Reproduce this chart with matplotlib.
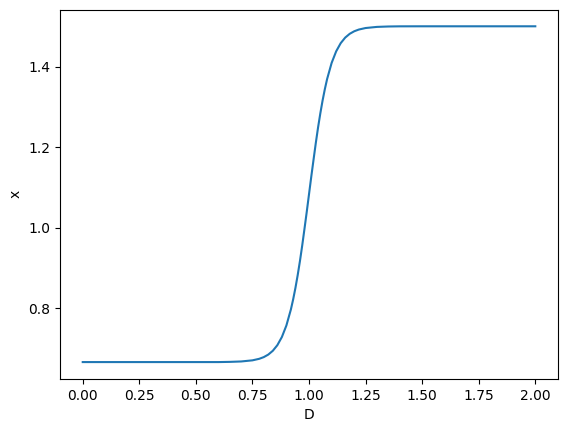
import matplotlib
matplotlib.use("Agg")
import matplotlib.pyplot as plt

# values
D = [0.0, 0.5, 0.6, 0.65, 0.7, 0.75, 0.78, 0.8, 0.82, 0.84, 0.86, 0.88,
     0.9, 0.92, 0.93, 0.94, 0.95, 0.96, 0.97, 0.98, 0.99, 1.0, 1.01,
     1.02, 1.03, 1.04, 1.05, 1.06, 1.07, 1.08, 1.1, 1.12, 1.14, 1.16,
     1.18, 1.2, 1.22, 1.25, 1.3, 1.35, 1.4, 1.5, 2.0]
x = [0.6667, 0.6667, 0.6667, 0.6672, 0.6682, 0.6710, 0.6748, 0.6790,
     0.6853, 0.6947, 0.7086, 0.7288, 0.7575, 0.7975, 0.8225, 0.8508,
     0.8826, 0.9177, 0.9562, 0.9976, 1.0396, 1.0833, 1.1270, 1.1690,
     1.2104, 1.2490, 1.2840, 1.3159, 1.3442, 1.3692, 1.4092, 1.4379,
     1.4581, 1.4720, 1.4814, 1.4877, 1.4919, 1.4957, 1.4985, 1.4995,
     1.4999, 1.5, 1.5]

fig = plt.figure(figsize=(5.67, 4.32), dpi=100)
ax = fig.add_axes([0.106, 0.123, 0.878, 0.855])
ax.plot(D, x)
ax.set_xlabel("D")
ax.set_ylabel("x")
fig.savefig("out.png")
